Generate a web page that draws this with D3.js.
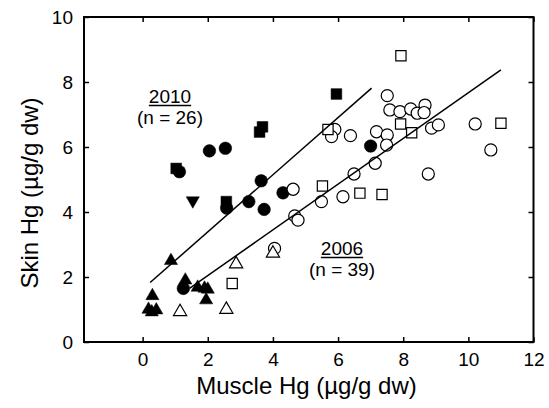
<!DOCTYPE html>
<html><head><meta charset="utf-8">
<script src="https://cdn.jsdelivr.net/npm/d3@7"></script>
<style>
html,body{margin:0;padding:0;background:#fff;}
text{font-family:"Liberation Sans",Arial,sans-serif;fill:#000;}
</style></head>
<body><svg id="c" width="549" height="408"></svg>
<script>
// ---- data ----
const xTicks = [0, 2, 4, 6, 8, 10, 12];
const yTicks = [0, 2, 4, 6, 8, 10];
// 2010 (filled)
const circles2010 = [[1.13,5.24],[2.05,5.88],[2.54,5.96],[3.64,4.96],[4.31,4.59],[2.58,4.12],[3.26,4.32],[3.73,4.08],[7.0,6.03],[1.25,1.65]];
const squares2010 = [[1.03,5.34],[3.59,6.46],[3.68,6.62],[5.95,7.63],[2.57,4.32]];
const downTri2010 = [[1.54,4.35]];
const triangles2010 = [[0.87,2.5],[0.3,1.42],[0.18,1.0],[0.42,0.98],[0.28,0.92],[1.31,1.9],[1.69,1.68],[1.9,1.65],[2.0,1.62],[1.95,1.29]];
// 2006 (open)
const circles2006 = [[4.05,2.88],[4.67,3.88],[4.77,3.75],[4.62,4.70],[5.49,4.32],[6.15,4.47],[6.49,5.17],[7.14,5.50],[5.90,6.54],[5.80,6.32],[6.38,6.35],[7.18,6.47],[7.51,6.37],[7.49,6.06],[7.51,7.58],[7.59,7.14],[7.9,7.09],[8.23,7.17],[8.43,7.04],[8.67,7.29],[8.64,7.06],[8.87,6.58],[9.08,6.68],[10.21,6.71],[10.69,5.91],[8.77,5.17]];
const triangles2006 = [[2.87,2.40],[1.15,0.93],[2.57,1.0],[4.0,2.73]];
const squares2006 = [[2.75,1.8],[5.52,4.80],[6.67,4.58],[7.35,4.54],[7.93,8.81],[5.69,6.54],[7.92,6.71],[8.26,6.44],[11.0,6.73]];
// regression lines (endpoints)
const line2010 = [[0.23,1.83],[7.03,7.81]];
const line2006 = [[1.44,1.65],[11.0,8.37]];

const svg = d3.select("#c");
const L = 84, R = 533.5, T = 17, B = 342;
const x = d3.scaleLinear().domain([-1.8, 12]).range([L, R]);
const y = d3.scaleLinear().domain([0, 10]).range([B, T]);

// axes
const gb = svg.append("g").attr("transform", `translate(0,${B})`)
  .call(d3.axisBottom(x).tickValues(xTicks).tickSizeInner(-5).tickSizeOuter(0).tickPadding(11));
const gl = svg.append("g").attr("transform", `translate(${L},0)`)
  .call(d3.axisLeft(y).tickValues(yTicks).tickSizeInner(-5).tickSizeOuter(0).tickPadding(11));
const gt = svg.append("g").attr("transform", `translate(0,${T})`)
  .call(d3.axisTop(x).tickValues(xTicks).tickSizeInner(-5).tickSizeOuter(0).tickFormat(""));
const gr = svg.append("g").attr("transform", `translate(${R},0)`)
  .call(d3.axisRight(y).tickValues(yTicks).tickSizeInner(-5).tickSizeOuter(0).tickFormat(""));
[gb, gl, gt, gr].forEach(g => {
  g.select(".domain").remove();
  g.selectAll(".tick line").attr("stroke", "#000").attr("stroke-width", 1.5);
  g.selectAll("text").style("font-size", "19px").attr("fill", "#000");
});
svg.append("rect").attr("x", L).attr("y", T).attr("width", R - L).attr("height", B - T)
  .attr("fill", "none").attr("stroke", "#000").attr("stroke-width", 2);

// markers
function draw(data, type, size, filled, rot) {
  svg.append("g").selectAll("path").data(data).join("path")
    .attr("d", d3.symbol().type(type).size(size))
    .attr("transform", d => `translate(${x(d[0])},${y(d[1])})${rot ? " rotate(180)" : ""}`)
    .attr("fill", filled ? "#000" : "#fff")
    .attr("stroke", "#000").attr("stroke-width", filled ? 0.5 : 1.2);
}
draw(circles2010, d3.symbolCircle, 125, true);
draw(squares2010, d3.symbolSquare, 115, true);
draw(downTri2010, d3.symbolTriangle, 75, true, true);
draw(triangles2010, d3.symbolTriangle, 75, true);
draw(circles2006, d3.symbolCircle, 115, false);
draw(triangles2006, d3.symbolTriangle, 75, false);
draw(squares2006, d3.symbolSquare, 105, false);

// regression lines
const ln = d3.line().x(d => x(d[0])).y(d => y(d[1]));
[line2010, line2006].forEach(l => svg.append("path").attr("d", ln(l))
  .attr("fill", "none").attr("stroke", "#000").attr("stroke-width", 1.5));

// annotations
function label(cx, by, year, n) {
  const t = svg.append("text").attr("x", cx).attr("y", by).attr("text-anchor", "middle")
    .style("font-size", "19px").text(year);
  const w = t.node().getComputedTextLength();
  svg.append("line").attr("x1", cx - w / 2).attr("x2", cx + w / 2)
    .attr("y1", by + 2.5).attr("y2", by + 2.5).attr("stroke", "#000").attr("stroke-width", 1.3);
  svg.append("text").attr("x", cx).attr("y", by + 21).attr("text-anchor", "middle")
    .style("font-size", "19px").text(n);
}
label(170, 103, "2010", "(n = 26)");
label(342, 255, "2006", "(n = 39)");

// axis titles
svg.append("text").attr("x", 306.5).attr("y", 394).attr("text-anchor", "middle")
  .style("font-size", "24px").text("Muscle Hg (\u00b5g/g dw)");
svg.append("text").attr("transform", "translate(38,193) rotate(-90)").attr("text-anchor", "middle")
  .style("font-size", "24px").text("Skin Hg (\u00b5g/g dw)");
</script></body></html>
